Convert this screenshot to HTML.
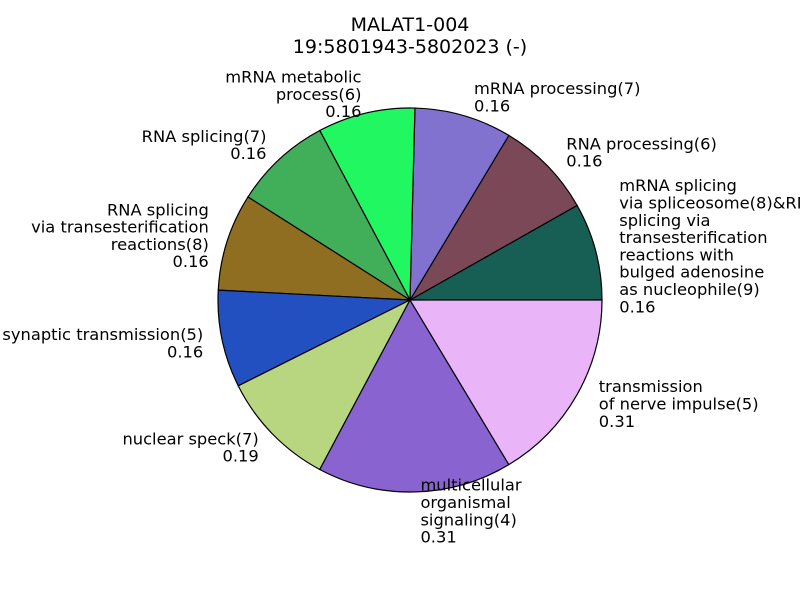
<!DOCTYPE html>
<html><head><meta charset="utf-8"><style>body{margin:0;background:#fff}svg{display:block}</style></head>
<body>
<svg id="chart" width="800" height="600" xmlns="http://www.w3.org/2000/svg" font-family="'DejaVu Sans','Liberation Sans',sans-serif">
<rect width="800" height="600" fill="#fff"/>
<text x="410" y="31" font-size="19" text-anchor="middle">MALAT1-004</text>
<text x="410" y="53" font-size="19" text-anchor="middle">19:5801943-5802023 (-)</text>
<g id="slices"></g><g id="labels"></g>
</svg>
<script>
const categories = [
 ["mRNA splicing","via spliceosome(8)&RNA","splicing via","transesterification","reactions with","bulged adenosine","as nucleophile(9)"],
 ["RNA processing(6)"],
 ["mRNA processing(7)"],
 ["mRNA metabolic","process(6)"],
 ["RNA splicing(7)"],
 ["RNA splicing","via transesterification","reactions(8)"],
 ["synaptic transmission(5)"],
 ["nuclear speck(7)"],
 ["multicellular","organismal","signaling(4)"],
 ["transmission","of nerve impulse(5)"]
];
const values = [0.155,0.155,0.155,0.155,0.155,0.155,0.155,0.186,0.31,0.31];
const valueLabels = ["0.16","0.16","0.16","0.16","0.16","0.16","0.16","0.19","0.31","0.31"];
const colors = ["#175E54","#7A4856","#8172D0","#20F760","#41AE5A","#8F6E21","#2250C0","#B8D680","#8964D0","#E9B5F8"];
const NS="http://www.w3.org/2000/svg";
const cx=410, cy=300, r=192, lh=17.3;
const total=values.reduce((a,b)=>a+b,0);
const gs=document.getElementById('slices'), gl=document.getElementById('labels');
let a0=0;
values.forEach((v,i)=>{
  const a1=a0+v/total*2*Math.PI;
  const x0=cx+r*Math.cos(a0), y0=cy-r*Math.sin(a0), x1=cx+r*Math.cos(a1), y1=cy-r*Math.sin(a1);
  const large=(a1-a0)>Math.PI?1:0;
  const p=document.createElementNS(NS,'path');
  p.setAttribute('d',`M${cx},${cy} L${x0},${y0} A${r},${r} 0 ${large} 0 ${x1},${y1} Z`);
  p.setAttribute('fill',colors[i]);p.setAttribute('stroke','#000');p.setAttribute('stroke-width','1.2');
  
  
  gs.appendChild(p);
  const am=(a0+a1)/2;
  let lx=cx+1.1*r*Math.cos(am);
  const ly=cy-1.1*r*Math.sin(am);
  const right=lx>=cx;
  if(right) lx+=5;
  const lines=categories[i].concat([valueLabels[i]]);
  const t=document.createElementNS(NS,'text');
  t.setAttribute('font-size','16.3');
  t.setAttribute('text-anchor',right?'start':'end');
  
  
  const startY=ly-(lines.length-1)*lh/2+5.5;
  lines.forEach((s,k)=>{
    const ts=document.createElementNS(NS,'tspan');
    ts.setAttribute('x',lx);ts.setAttribute('y',startY+k*lh);ts.textContent=s;t.appendChild(ts);
  });
  gl.appendChild(t);
  a0=a1;
});
</script>
</body></html>
